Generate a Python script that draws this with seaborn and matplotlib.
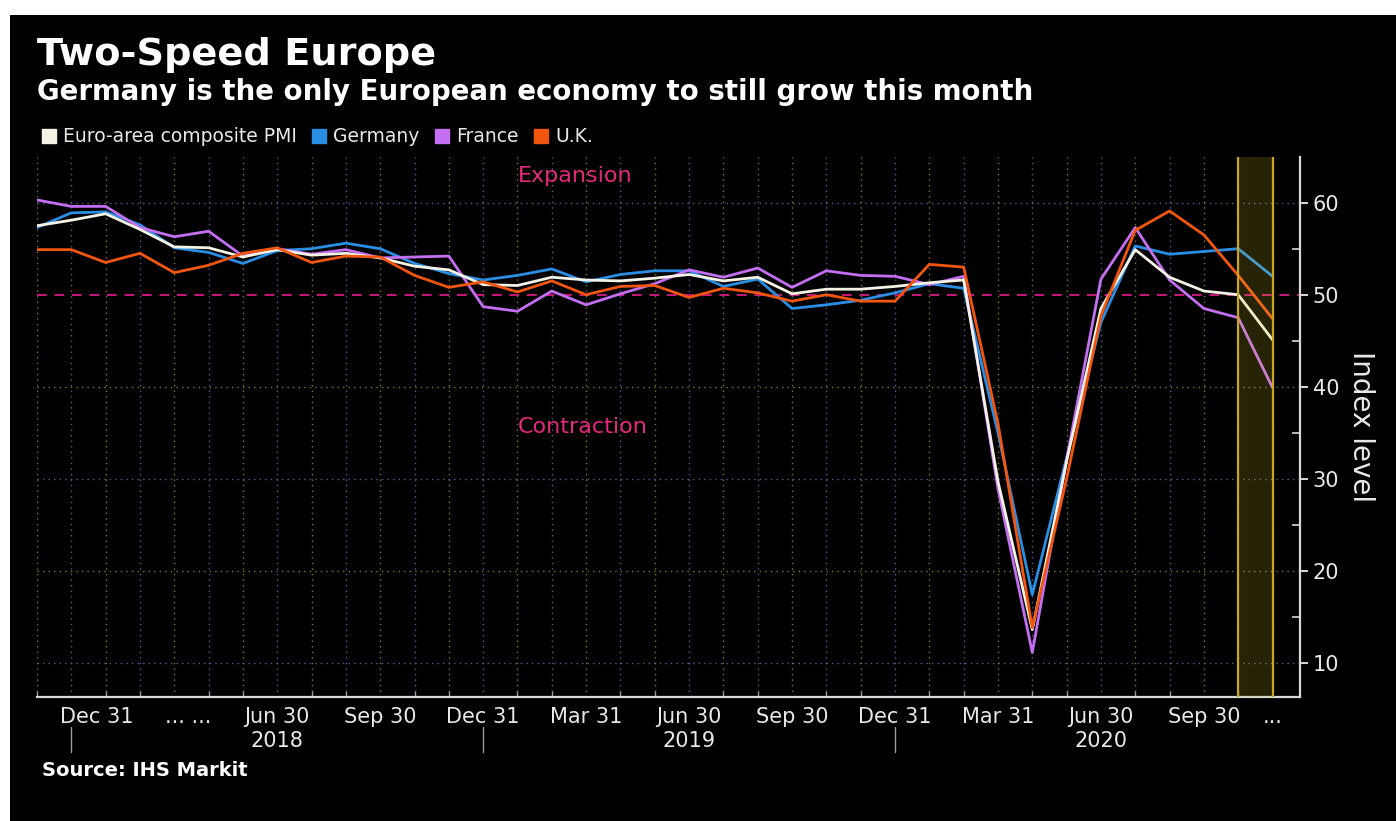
import numpy as np
import pandas as pd
import matplotlib
matplotlib.use("Agg")
import matplotlib.pyplot as plt
import matplotlib.transforms as mtransforms
from matplotlib.lines import Line2D
from matplotlib.patches import Rectangle
from matplotlib.ticker import MultipleLocator, FixedLocator
import seaborn as sns

# ---------------- data ----------------
months = pd.period_range("2017-11", "2020-11", freq="M").strftime("%b %Y").tolist()
euro = [57.5, 58.1, 58.8, 57.1, 55.2, 55.1, 54.1, 54.9, 54.3, 54.5, 54.0, 53.1,
        52.7, 51.1, 51.0, 51.9, 51.6, 51.5, 51.8, 52.2, 51.5, 51.9, 50.1, 50.6,
        50.6, 50.9, 51.3, 51.6, 29.7, 13.6, 31.9, 48.5, 54.9, 51.9, 50.4, 50.0, 45.1]
germany = [57.3, 58.9, 59.0, 57.6, 55.1, 54.6, 53.4, 54.8, 55.0, 55.6, 55.0, 53.4,
           52.3, 51.6, 52.1, 52.8, 51.4, 52.2, 52.6, 52.6, 50.9, 51.7, 48.5, 48.9,
           49.4, 50.2, 51.2, 50.7, 35.0, 17.4, 32.3, 47.0, 55.3, 54.4, 54.7, 55.0, 52.0]
france = [60.3, 59.6, 59.6, 57.3, 56.3, 56.9, 54.2, 55.0, 54.4, 54.9, 54.0, 54.1,
          54.2, 48.7, 48.2, 50.4, 48.9, 50.1, 51.2, 52.7, 51.9, 52.9, 50.8, 52.6,
          52.1, 52.0, 51.1, 52.0, 28.9, 11.1, 32.1, 51.7, 57.3, 51.6, 48.5, 47.5, 39.9]
uk = [54.9, 54.9, 53.5, 54.5, 52.4, 53.2, 54.5, 55.1, 53.5, 54.2, 54.1, 52.1,
      50.8, 51.4, 50.3, 51.5, 50.0, 50.9, 51.0, 49.7, 50.7, 50.2, 49.3, 50.0,
      49.3, 49.3, 53.3, 53.0, 36.0, 13.8, 30.0, 47.7, 57.0, 59.1, 56.5, 52.1, 47.4]

series_names = ["Euro-area composite PMI", "Germany", "France", "U.K."]
series_colors = ["#f4f2e4", "#2a8fe4", "#c46ef2", "#f2560e"]
draw_order = ["Germany", "France", "Euro-area composite PMI", "U.K."]

tick_pos = [1, 4, 7, 10, 13, 16, 19, 22, 25, 28, 31, 34, 36]
tick_labels = ["Dec 31", "... ...", "Jun 30", "Sep 30", "Dec 31", "Mar 31", "Jun 30",
               "Sep 30", "Dec 31", "Mar 31", "Jun 30", "Sep 30", "..."]
year_labels = ["2018", "2019", "2020"]
year_pos = [7, 19, 31]
year_sep = [1, 13, 25]
y_ticks = [10, 20, 30, 40, 50, 60]
threshold = 50
shade_span = [35, 36]

# ---------------- style ----------------
sns.set_theme(style="dark")
plt.rcParams["font.family"] = ["DejaVu Sans"]

W, H = 1396, 821
fig = plt.figure(figsize=(W / 100, H / 100), dpi=100, facecolor="white")
fig.patches.append(Rectangle((10 / W, 0), 1 - 10 / W, 1 - 15 / H,
                             transform=fig.transFigure, facecolor="black",
                             edgecolor="none", zorder=-10))

ax = fig.add_axes([37 / W, 1 - 697 / H, (1300 - 37) / W, (697 - 157) / H])
ax.set_facecolor("black")

n = len(months)
df = pd.DataFrame({
    "idx": np.tile(np.arange(n), 4),
    "value": euro + germany + france + uk,
    "series": np.repeat(series_names, n),
})

# grid lines
grid_cols = ["#7a7a38", "#5a5a9c"]
for i in range(n):
    ax.axvline(i, color=grid_cols[i % 2], ls=(0, (1, 3)), lw=1.0, zorder=1)
for k, y in enumerate([t for t in y_ticks if t != threshold]):
    ax.axhline(y, color=grid_cols[(k + 1) % 2], ls=(0, (1, 3)), lw=1.0, zorder=1)
ax.axhline(threshold, color="#c8187a", ls=(0, (5, 4)), lw=1.4, zorder=2)

sns.lineplot(data=df, x="idx", y="value", hue="series", hue_order=draw_order,
             palette=dict(zip(series_names, series_colors)), linewidth=2.0,
             legend=False, ax=ax, sort=False, zorder=3)

# shaded latest period
ax.axvspan(shade_span[0], shade_span[1], color="#e6d22a", alpha=0.17, lw=0, zorder=5)
for s in shade_span:
    ax.axvline(s, color="#c9a51e", lw=1.6, zorder=6)

ax.set_xlim(0, 36.8)
ax.set_ylim(6.27, 64.97)

# spines
for side in ["left", "top"]:
    ax.spines[side].set_visible(False)
for side in ["bottom", "right"]:
    ax.spines[side].set_visible(True)
    ax.spines[side].set_color("#d8d8d8")
    ax.spines[side].set_linewidth(1.6)

# y axis on right
ax.yaxis.tick_right()
ax.set_yticks(y_ticks)
ax.yaxis.set_minor_locator(MultipleLocator(5))
ax.tick_params(axis="y", which="major", direction="out", length=6, width=1.4,
               color="#d8d8d8", labelcolor="#e8e8e8", labelsize=15, pad=3,
               left=False, right=True)
ax.tick_params(axis="y", which="minor", direction="in", length=6, width=1.2,
               color="#d8d8d8", left=False, right=True)
ax.set_ylabel("Index level", color="#e8e8e8", fontsize=20)
ax.yaxis.set_label_position("right")
ax.yaxis.label.set_rotation(270)
ax.yaxis.label.set_rotation_mode("anchor")
ax.yaxis.label.set_verticalalignment("center")
ax.yaxis.label.set_horizontalalignment("center")
ax.yaxis.set_label_coords(1.0483, 0.5)

# x axis
ax.set_xlabel("")
ax.set_xticks(tick_pos, tick_labels)
ax.xaxis.set_minor_locator(FixedLocator(list(range(n))))
ax.tick_params(axis="x", which="major", length=0, labelsize=15,
               labelcolor="#e8e8e8", pad=7)
ax.tick_params(axis="x", which="minor", direction="in", length=4, width=1,
               color="#9a9a9a", bottom=True)
shifts = {0: 25, 1: 14}
for j, lab in enumerate(ax.get_xticklabels()):
    if j in shifts:
        off = mtransforms.ScaledTranslation(shifts[j] / 100, 0, fig.dpi_scale_trans)
        lab.set_transform(lab.get_transform() + off)

blend = mtransforms.blended_transform_factory(ax.transData, ax.transAxes)
for p, t in zip(year_pos, year_labels):
    ax.text(p, -0.0815, t, transform=blend, ha="center", va="center",
            color="#e8e8e8", fontsize=15)
for p in year_sep:
    ax.plot([p, p], [-0.056, -0.102], transform=blend, color="#9a9a9a",
            lw=1, clip_on=False)

# annotations
ax.text(14.02, 62.9, "Expansion", color="#e6287e", fontsize=16, ha="left", va="center")
ax.text(14.02, 35.6, "Contraction", color="#e6287e", fontsize=16, ha="left", va="center")

# titles
fig.text(37 / W, 1 - 65 / H, "Two-Speed Europe", color="white", fontsize=27.5,
         fontweight="bold", ha="left", va="baseline")
fig.text(37 / W, 1 - 100 / H,
         "Germany is the only European economy to still grow this month",
         color="white", fontsize=19.9, fontweight="bold", ha="left", va="baseline")
fig.text(42 / W, 1 - 776 / H, "Source: IHS Markit", color="white", fontsize=14,
         fontweight="bold", ha="left", va="baseline")

# legend
handles = [Line2D([], [], marker="s", linestyle="none", markersize=10,
                  markerfacecolor=c, markeredgecolor=c) for c in series_colors]
fig.legend(handles, series_names, loc="center left",
           bbox_to_anchor=(43 / W, 1 - 137 / H), ncol=4, frameon=False,
           fontsize=13.5, labelcolor="#e8e8e8", handlelength=0.6,
           handletextpad=0.45, columnspacing=0.9, borderaxespad=0, borderpad=0)

fig.savefig("out.png", dpi=100, facecolor="white")
